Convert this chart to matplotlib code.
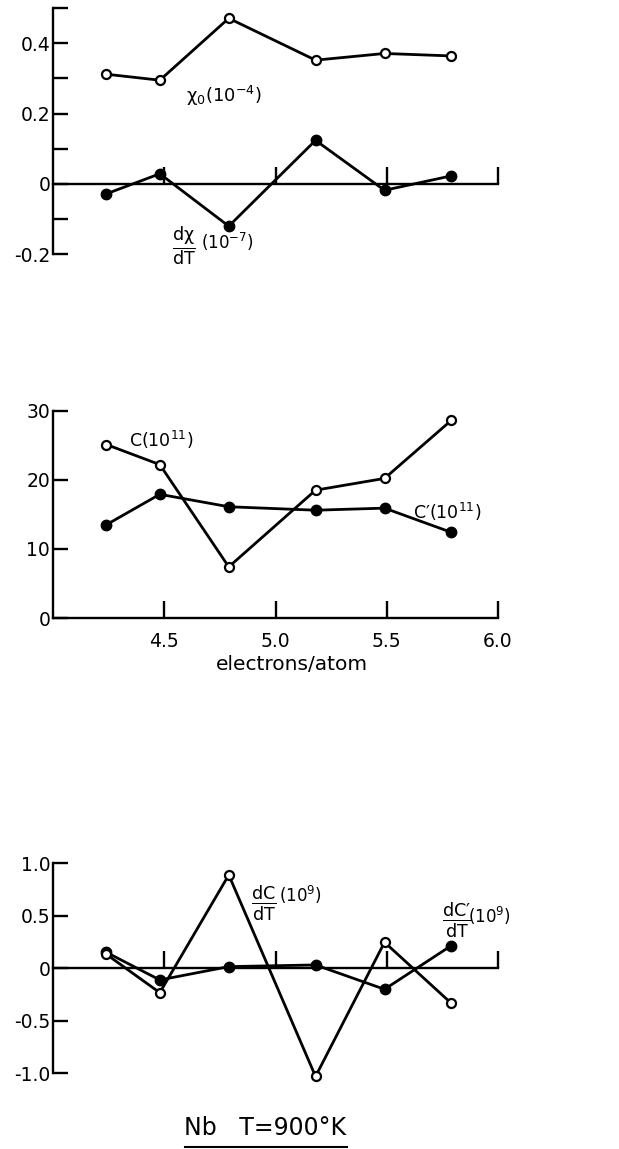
import numpy as np
import matplotlib
matplotlib.use("Agg")
import matplotlib.pyplot as plt
from matplotlib.lines import Line2D

plt.rcParams['font.family'] = ['DejaVu Sans']
plt.rcParams['mathtext.default'] = 'regular'

# electrons/atom (same for all three panels)
ea = [4.24, 4.48, 4.79, 5.18, 5.49, 5.79]

# top panel
chi0 = [0.312, 0.295, 0.471, 0.352, 0.371, 0.364]
dchi_dT = [-0.028, 0.029, -0.120, 0.124, -0.018, 0.023]

# middle panel
C = [25.1, 22.2, 7.4, 18.5, 20.2, 28.6]
Cp = [13.5, 17.9, 16.1, 15.6, 15.9, 12.4]

# bottom panel
dC_dT = [0.133, -0.232, 0.889, -1.03, 0.248, -0.333]
dCp_dT = [0.152, -0.111, 0.016, 0.032, -0.200, 0.216]

xticks = [4.5, 5.0, 5.5, 6.0]
xticklabels = ['4.5', '5.0', '5.5', '6.0']

fig = plt.figure(figsize=(6.19, 11.49), dpi=100)
L, W = 53/619, 445/619

def setup(ax, ylo, yhi, yt, ytl, ymin=None, xlabels=False):
    ax.set_xlim(4.0, 6.0)
    ax.set_ylim(ylo, yhi)
    for s in ['top', 'right']:
        ax.spines[s].set_visible(False)
    ax.spines['left'].set_linewidth(1.7)
    ax.spines['bottom'].set_linewidth(1.7)
    ax.spines['bottom'].set_position(('data', 0))
    ax.spines['left'].set_bounds(ylo, yhi)
    ax.set_yticks(yt)
    ax.set_yticklabels(ytl)
    if ymin is not None:
        ax.set_yticks(ymin, minor=True)
    ax.set_xticks(xticks)
    if xlabels:
        ax.set_xticklabels(xticklabels)
    ax.tick_params(axis='y', which='both', direction='in', length=11, width=1.7,
                   pad=2, labelsize=13.5)
    ax.tick_params(axis='x', direction='in', length=12, width=1.7, pad=10,
                   labelsize=13.5, labelbottom=xlabels)
    ax.patch.set_visible(False)

def series(ax, y, filled):
    if filled:
        ax.plot(ea, y, '-o', color='black', lw=2.0, ms=7.5, mfc='black',
                mec='black', clip_on=False, zorder=3)
    else:
        ax.plot(ea, y, '-o', color='black', lw=2.0, ms=6.5, mfc='white',
                mec='black', mew=1.6, clip_on=False, zorder=4)

def frac_label(ax, x, y, num, den, power, dx, dy):
    ax.text(x, y, r'$\frac{%s}{%s}$' % (num, den), fontsize=18, ha='left', va='center')
    ax.text(x + dx, y + dy, r'$(10^{%s})$' % power, fontsize=12, ha='left', va='center')

# top panel
ax1 = fig.add_axes([L, 1-254.3/1149, W, 246.2/1149])
setup(ax1, -0.2, 0.5, [-0.2, 0, 0.2, 0.4], ['-0.2', '0', '0.2', '0.4'],
      ymin=[-0.1, 0.1, 0.3, 0.5])
series(ax1, chi0, False)
series(ax1, dchi_dT, True)
ax1.text(4.6, 0.25, r'$\chi_0(10^{-4})$', fontsize=13, ha='left', va='center')
frac_label(ax1, 4.535, -0.178, r'd\chi', 'dT', '-7', 0.13, 0.012)

# middle panel
ax2 = fig.add_axes([L, 1-618/1149, W, 207.3/1149])
setup(ax2, 0, 30, [0, 10, 20, 30], ['0', '10', '20', '30'], xlabels=True)
series(ax2, C, False)
series(ax2, Cp, True)
ax2.text(4.34, 25.7, r'C$(10^{11})$', fontsize=12.5, ha='left', va='center')
ax2.text(5.62, 15.3, r"C′$(10^{11})$", fontsize=12.5, ha='left', va='center')
fig.text(292/619, 1-665/1149, 'electrons/atom', fontsize=14.5, ha='center', va='center')

# bottom panel
ax3 = fig.add_axes([L, 1-1073.3/1149, W, 210/1149])
setup(ax3, -1.0, 1.0, [-1.0, -0.5, 0, 0.5, 1.0], ['-1.0', '-0.5', '0', '0.5', '1.0'])
series(ax3, dC_dT, False)
series(ax3, dCp_dT, True)
frac_label(ax3, 4.89, 0.62, 'dC', 'dT', '9', 0.125, 0.08)
frac_label(ax3, 5.75, 0.46, 'dC′', 'dT', '9', 0.115, 0.04)

fig.text(265/619, 1-1128/1149, 'Nb   T=900°K', fontsize=17, ha='center', va='center')
fig.add_artist(Line2D([185/619, 347/619], [1-1147/1149]*2, color='black', lw=1.5))

fig.savefig('out.png', dpi=100)
